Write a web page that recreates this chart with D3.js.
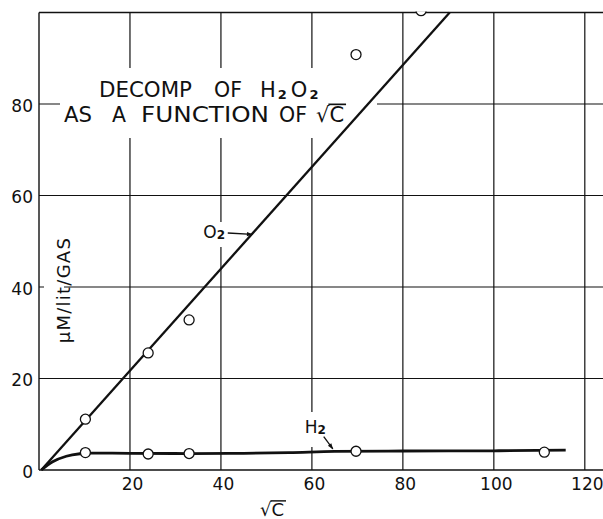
<!DOCTYPE html>
<html>
<head>
<meta charset="utf-8">
<script src="https://cdn.jsdelivr.net/npm/d3@7"></script>
<style>
  body { margin: 0; background: #fff; }
  text { font-family: "DejaVu Sans", sans-serif; fill: #111; }
</style>
</head>
<body>
<div id="chart"></div>
<script>
const width = 603;
const height = 519;

// ticks
const xTicks = [20, 40, 60, 80, 100, 120];
const yTicks = [0, 20, 40, 60, 80];
const yGrid = [20, 40, 60, 80, 100];

// measured points (sqrt C, uM/lit gas)
const o2X = [10.2, 24.0, 33.0, 69.7, 84.0];
const o2Y = [11.1, 25.6, 32.8, 90.8, 100.4];
const h2X = [10.2, 24.0, 33.0, 69.7, 111.1];
const h2Y = [3.8, 3.5, 3.6, 4.1, 3.9];

// drawn curves
const o2FitX = [0.5, 90.3];
const o2FitY = [0, 100];
const h2FitX = [0.5, 3, 6, 9, 11, 20, 33, 45, 55, 65, 80, 100, 115.8];
const h2FitY = [0, 1.8, 3.0, 3.55, 3.7, 3.65, 3.6, 3.65, 3.8, 4.05, 4.15, 4.2, 4.35];

const svg = d3.select("#chart").append("svg")
  .attr("width", width)
  .attr("height", height);

const x = d3.scaleLinear().domain([0, 124]).range([39, 603]);
const y = d3.scaleLinear().domain([0, 100]).range([470, 12.5]);

const ink = "#111";

// grid
svg.append("g").selectAll("line").data(xTicks).join("line")
  .attr("x1", d => x(d)).attr("x2", d => x(d))
  .attr("y1", y(0)).attr("y2", y(100))
  .attr("stroke", ink).attr("stroke-width", 1.2);

svg.append("g").selectAll("line").data(yGrid).join("line")
  .attr("x1", x(0)).attr("x2", width)
  .attr("y1", d => y(d)).attr("y2", d => y(d))
  .attr("stroke", ink).attr("stroke-width", d => d === 100 ? 1.6 : 1.2);

svg.append("line")
  .attr("x1", x(0)).attr("x2", x(0)).attr("y1", y(0)).attr("y2", y(100))
  .attr("stroke", ink).attr("stroke-width", 1.4);
svg.append("line")
  .attr("x1", x(0)).attr("x2", width).attr("y1", y(0)).attr("y2", y(0))
  .attr("stroke", ink).attr("stroke-width", 1.6);

// white knockouts behind lettering
const knock = (x0, y0, x1, y1) => svg.append("rect")
  .attr("x", x0).attr("y", y0).attr("width", x1 - x0).attr("height", y1 - y0)
  .attr("fill", "#fff");
knock(60, 68, 377, 138);
knock(44, 232, 64, 349);
knock(203, 222, 250, 247);
knock(300, 412, 330, 447);

// axes labels
const xAxis = svg.append("g")
  .attr("transform", `translate(0,${y(0)})`)
  .call(d3.axisBottom(x).tickValues(xTicks).tickSize(0));
xAxis.select(".domain").remove();
xAxis.selectAll("text")
  .attr("y", 20).attr("dy", null).attr("dx", 2)
  .attr("font-size", 17).attr("font-family", "DejaVu Sans").attr("fill", ink);

const yAxis = svg.append("g")
  .attr("transform", `translate(${x(0)},0)`)
  .call(d3.axisLeft(y).tickValues(yTicks).tickSize(0));
yAxis.select(".domain").remove();
yAxis.selectAll("text")
  .attr("x", -6).attr("dy", "0.44em")
  .attr("font-size", 17).attr("font-family", "DejaVu Sans").attr("fill", ink);

// y label, inside the frame
svg.append("text")
  .attr("transform", `translate(70,${y(39.2)}) rotate(-90)`)
  .attr("text-anchor", "middle")
  .attr("font-size", 18)
  .attr("textLength", 105)
  .attr("lengthAdjust", "spacing")
  .text("μM/lit/GAS");

// sqrt C helper: radical plus overline over the C
function sqrtC(xPos, yBase, size, anchor) {
  const t = svg.append("text")
    .attr("x", xPos).attr("y", yBase)
    .attr("font-size", size)
    .attr("text-anchor", anchor)
    .text("√C");
  const n = t.node();
  const s = n.getStartPositionOfChar(1);
  const e = n.getEndPositionOfChar(1);
  const top = yBase - size * 0.84;
  svg.append("line")
    .attr("x1", s.x - 1).attr("x2", e.x + 2)
    .attr("y1", top).attr("y2", top)
    .attr("stroke", ink).attr("stroke-width", size * 0.08);
  return t;
}

sqrtC(272, 516, 18, "middle");

// title
const title1 = [["DECOMP", 99, 93], ["OF", 214, 28]];
const title2 = [["AS", 64, 28], ["A", 112, 14], ["FUNCTION", 141, 128], ["OF", 279, 28]];
title1.forEach(([w, xp, len]) => svg.append("text")
  .attr("x", xp).attr("y", 97).attr("font-size", 21)
  .attr("textLength", len).attr("lengthAdjust", "spacingAndGlyphs").text(w));
title2.forEach(([w, xp, len]) => svg.append("text")
  .attr("x", xp).attr("y", 122).attr("font-size", 21)
  .attr("textLength", len).attr("lengthAdjust", "spacingAndGlyphs").text(w));

const h2o2 = svg.append("text").attr("x", 260).attr("y", 97).attr("font-size", 21);
h2o2.append("tspan").text("H");
h2o2.append("tspan").attr("font-size", 13).attr("font-weight", "bold").attr("dy", 2).attr("dx", 2).text("2");
h2o2.append("tspan").attr("dy", -2).attr("dx", 4).text("O");
h2o2.append("tspan").attr("font-size", 13).attr("font-weight", "bold").attr("dy", 2).attr("dx", 2).text("2");

sqrtC(316, 122, 21, "start");

// arrow marker
svg.append("defs").append("marker")
  .attr("id", "arr")
  .attr("viewBox", "0 0 10 10")
  .attr("refX", 9).attr("refY", 5)
  .attr("markerWidth", 10).attr("markerHeight", 6)
  .attr("markerUnits", "userSpaceOnUse")
  .attr("orient", "auto")
  .append("path").attr("d", "M0,1.5 L10,5 L0,8.5 Z").attr("fill", ink);

// fitted lines
const line = d3.line().x(d => x(d[0])).y(d => y(d[1]));
svg.append("path")
  .datum(d3.zip(o2FitX, o2FitY))
  .attr("d", line)
  .attr("fill", "none").attr("stroke", ink).attr("stroke-width", 2.3);

svg.append("path")
  .datum(d3.zip(h2FitX, h2FitY))
  .attr("d", line.curve(d3.curveMonotoneX))
  .attr("fill", "none").attr("stroke", ink).attr("stroke-width", 2.8);

// series labels with arrows
const o2Lab = svg.append("text").attr("x", x(40.9)).attr("y", y(50.7))
  .attr("text-anchor", "end").attr("font-size", 17);
o2Lab.append("tspan").text("O");
o2Lab.append("tspan").attr("font-size", 12).attr("font-weight", "bold").attr("dy", 1).text("2");
svg.append("line")
  .attr("x1", x(41.5)).attr("y1", y(51.8))
  .attr("x2", x(46.9)).attr("y2", y(51.5))
  .attr("stroke", ink).attr("stroke-width", 1.3)
  .attr("marker-end", "url(#arr)");

const h2Lab = svg.append("text").attr("x", x(58.4)).attr("y", y(8.0))
  .attr("font-size", 17);
h2Lab.append("tspan").text("H");
h2Lab.append("tspan").attr("font-size", 12).attr("font-weight", "bold").attr("dy", 1).text("2");
svg.append("line")
  .attr("x1", x(62.6)).attr("y1", y(7.3))
  .attr("x2", x(64.6)).attr("y2", y(4.6))
  .attr("stroke", ink).attr("stroke-width", 1.3)
  .attr("marker-end", "url(#arr)");

// points
svg.append("clipPath").attr("id", "frame")
  .append("rect").attr("x", x(0)).attr("y", y(100) - 1)
  .attr("width", width - x(0)).attr("height", y(0) - y(100) + 1);

const pts = svg.append("g").attr("clip-path", "url(#frame)");
pts.selectAll(".o2").data(d3.zip(o2X, o2Y)).join("circle")
  .attr("class", "o2")
  .attr("cx", d => x(d[0])).attr("cy", d => y(d[1])).attr("r", 5)
  .attr("fill", "#fff").attr("stroke", ink).attr("stroke-width", 1.3);
pts.selectAll(".h2").data(d3.zip(h2X, h2Y)).join("circle")
  .attr("class", "h2")
  .attr("cx", d => x(d[0])).attr("cy", d => y(d[1])).attr("r", 5)
  .attr("fill", "#fff").attr("stroke", ink).attr("stroke-width", 1.3);
</script>
</body>
</html>
